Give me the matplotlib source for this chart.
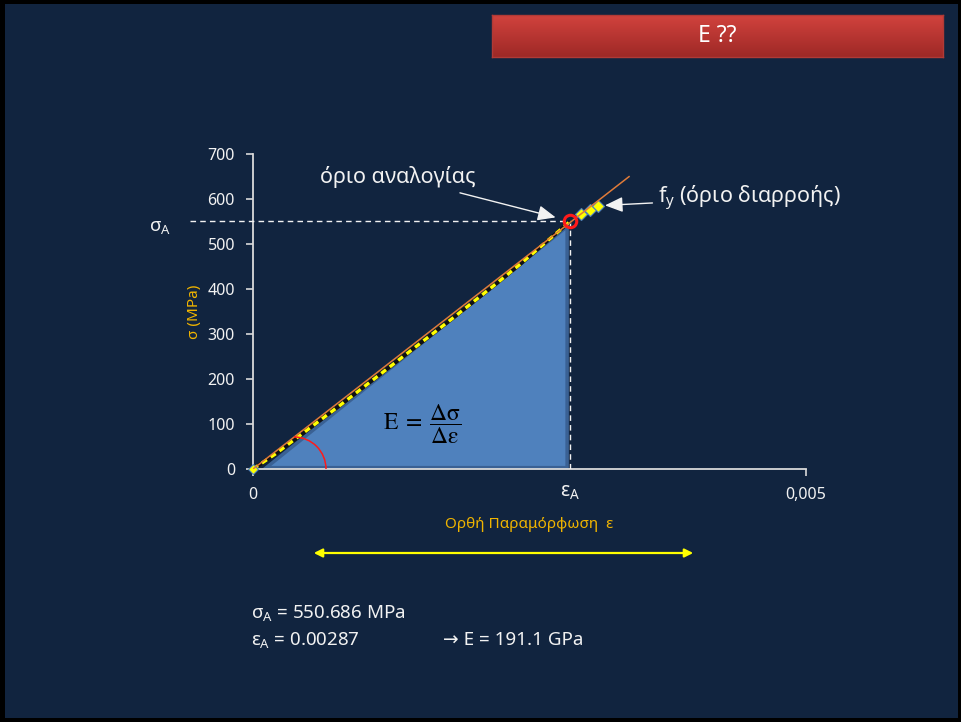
import matplotlib
matplotlib.use("Agg")
import matplotlib.pyplot as plt
import numpy as np
from matplotlib.patches import Rectangle, Polygon, Arc, FancyArrowPatch
from matplotlib.transforms import IdentityTransform

plt.rcParams['font.family'] = ['Noto Sans', 'DejaVu Sans']
plt.rcParams['mathtext.fontset'] = 'stix'

# ---- data ----
strain = [0.0, 0.0002, 0.0004, 0.0006, 0.0008, 0.0010, 0.0012, 0.0014, 0.0016,
          0.0018, 0.0020, 0.0022, 0.0024, 0.0026, 0.00287, 0.00297, 0.00305, 0.00312]
stress = [0, 33, 70, 107, 144, 182, 220, 258, 296, 334, 373, 412, 452, 494,
          550.686, 566, 576, 585]
eps_A = 0.00287          # proportional limit strain
sig_A = 550.686          # proportional limit stress (MPa)
E_GPa = 191.1            # elastic modulus
fit_end = 0.0034         # end of the linear fit line
yticks = [0, 100, 200, 300, 400, 500, 600, 700]
xticks = [0, 0.005]
xticklabels = ["0", "0,005"]

W, H = 961, 722
NAVY = "#11243f"
WHITE = "#f2f2f2"
GOLD = "#f0b400"

fig = plt.figure(figsize=(W / 100, H / 100), dpi=100, facecolor="black")


def fx(x):
    return x / W


def fy(y):
    return 1 - y / H


# slide background
bg = Rectangle((fx(5), fy(718)), fx(953), 714 / H, transform=fig.transFigure,
               facecolor=NAVY, edgecolor="none", zorder=-10)
fig.patches.append(bg)

# title box with vertical red gradient
tax = fig.add_axes([fx(492), fy(57), fx(451), 42 / H])
grad = np.linspace(0, 1, 64).reshape(-1, 1)
top = np.array([0.82, 0.26, 0.24])
bot = np.array([0.62, 0.16, 0.15])
img = top[None, None, :] * (1 - grad[:, :, None]) + bot[None, None, :] * grad[:, :, None]
tax.imshow(img, aspect="auto", extent=[0, 1, 0, 1])
tax.set_xlim(0, 1)
tax.set_ylim(0, 1)
tax.set_xticks([])
tax.set_yticks([])
for s in tax.spines.values():
    s.set_color("#b03a36")
    s.set_linewidth(1)
tax.text(0.5, 0.5, "E ??", color="white", fontsize=16.5, ha="center", va="center")

# main chart
ax = fig.add_axes([fx(253), fy(469), fx(553), 315 / H])
ax.set_facecolor("none")
ax.set_xlim(0, 0.005)
ax.set_ylim(0, 700)
for side in ["top", "right"]:
    ax.spines[side].set_visible(False)
for side in ["left", "bottom"]:
    ax.spines[side].set_color("#d9d9d9")
    ax.spines[side].set_linewidth(1.3)
ax.set_yticks(yticks)
ax.set_xticks(xticks)
ax.set_xticklabels(xticklabels)
ax.tick_params(axis="both", colors="#d9d9d9", labelcolor=WHITE, direction="out",
               length=5, width=1.2, labelsize=11.5, pad=8)
ax.set_ylabel("σ (MPa)", color=GOLD, fontsize=11, labelpad=4)
ax.set_xlabel("Ορθή Παραμόρφωση  ε", color=GOLD, fontsize=11, labelpad=10)

# shaded triangle under the elastic part
tri = Polygon([(0.00012, 3), (eps_A - 0.00003, sig_A - 12), (eps_A - 0.00003, 3)],
              closed=True, facecolor="#4f81bd", edgecolor="#3a6194", lw=2.5, zorder=2)
ax.add_patch(tri)

# dashed guides at the proportional limit
ax.plot([-0.00057, eps_A], [sig_A, sig_A], ls=(0, (4, 3)), color=WHITE, lw=1,
        clip_on=False, zorder=3)
ax.plot([eps_A, eps_A], [0, sig_A], ls=(0, (4, 3)), color=WHITE, lw=1, zorder=3)

# measured stress-strain points
el = [i for i, s in enumerate(strain) if s <= eps_A]
pl = [i for i, s in enumerate(strain) if s > eps_A]
xs = [strain[i] for i in el]
ys = [stress[i] for i in el]
ax.plot(xs, ys, color="#111111", lw=2.8, zorder=5, solid_capstyle="butt")
ax.plot(xs, ys, color="#ffff00", lw=2.4, ls=(0, (1.8, 1.4)), zorder=6)
ax.plot([strain[i] for i in pl], [stress[i] for i in pl], ls="none", marker="D",
        ms=6, mfc="#ffff00", mec="#4f81bd", mew=0.8, zorder=6)
ax.plot([0], [0], ls="none", marker="D", ms=5.5, mfc="#ffff00", mec="#4f81bd",
        mew=0.8, zorder=7, clip_on=False)

# linear fit line E * strain
ax.plot([0, fit_end], [0, E_GPa * 1000 * fit_end], color="#e07b39", lw=1.1, zorder=7)

# proportional limit marker
ax.plot([eps_A], [sig_A], ls="none", marker="o", ms=9, mfc="none", mec="#ff1a1a",
        mew=2.2, zorder=8)

# angle arc
fig.canvas.draw()
ox, oy = ax.transData.transform((0, 0))
px_, py_ = ax.transData.transform((eps_A, sig_A))
slope = (py_ - oy) / (px_ - ox)
d = 41
r = d * slope
arc = Arc((ox + d, oy), 2 * r, 2 * r, theta1=0, theta2=90,
          transform=IdentityTransform(), color="#ff1a1a", lw=1.1, zorder=9)
fig.patches.append(arc)

# formula
fig.text(fx(422), fy(424),
         r"$\mathrm{E}\;=\;\dfrac{\mathrm{\Delta\sigma}}{\mathrm{\Delta\varepsilon}}$",
         fontsize=17, color="black", ha="center", va="center")

# axis symbols
fig.text(fx(160), fy(227), r"$\mathregular{σ_A}$", color=WHITE, fontsize=13.5,
         ha="center", va="center")
xA, _ = ax.transData.transform((eps_A, 0))
fig.text(xA / W, fy(492), r"$\mathregular{ε_A}$", color=WHITE, fontsize=14,
         ha="center", va="center")

# annotations
arrow_kw = dict(arrowstyle="-|>,head_length=0.7,head_width=0.3", color=WHITE, lw=1)
ax.annotate("όριο αναλογίας", xy=(eps_A, sig_A), xycoords="data",
            xytext=(fx(476), fy(177)), textcoords="figure fraction",
            color=WHITE, fontsize=15.5, ha="right", va="center",
            arrowprops=dict(shrinkA=6, shrinkB=11, **arrow_kw))
ax.annotate(r"$\mathregular{f_y}$ (όριο διαρροής)", xy=(strain[-1], stress[-1]),
            xycoords="data", xytext=(fx(658), fy(198)), textcoords="figure fraction",
            color=WHITE, fontsize=15.5, ha="left", va="center",
            arrowprops=dict(shrinkA=2, shrinkB=5, **arrow_kw))

# yellow range arrow
fig.add_artist(FancyArrowPatch(
    (fx(311), fy(553)), (fx(696), fy(553)), transform=fig.transFigure,
    arrowstyle="<|-|>,head_length=5,head_width=2.5", color="#ffff00", lw=1.6))

# summary text
fig.text(fx(251), fy(613), r"$\mathregular{σ_A}$ = 550.686 MPa", color=WHITE,
         fontsize=13.5, ha="left", va="center")
fig.text(fx(251), fy(640), r"$\mathregular{ε_A}$ = 0.00287", color=WHITE,
         fontsize=13.5, ha="left", va="center")
fig.text(fx(443), fy(640), "→ E = 191.1 GPa", color=WHITE, fontsize=13.5,
         ha="left", va="center")

fig.savefig("out.png", dpi=100, facecolor="black")
